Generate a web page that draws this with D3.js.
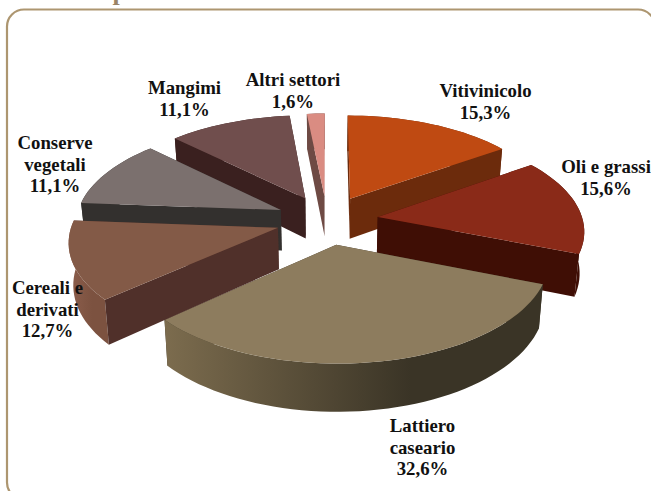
<!DOCTYPE html>
<html>

<head>
  <meta charset="utf-8">
  <title>Settori</title>
  <style>
    html, body {
      margin: 0;
      background: #fff;
    }
    svg {
      display: block;
    }
    text {
      font-family: 'Liberation Serif', serif;
      font-weight: bold;
    }
  </style>
</head>

<body>
  <div id="chart"></div>
  <script src="https://d3js.org/d3.v7.min.js"></script>
  <script>
    var categories = ["Vitivinicolo", "Oli e grassi", "Lattiero caseario", "Cereali e derivati", "Conserve vegetali", "Mangimi", "Altri settori"];
    var shares = [15.3, 15.6, 32.6, 12.7, 11.1, 11.1, 1.6];
    var labelLines = [["Vitivinicolo", "15,3%"], ["Oli e grassi", "15,6%"], ["Lattiero", "caseario", "32,6%"], ["Cereali e", "derivati", "12,7%"], ["Conserve", "vegetali", "11,1%"], ["Mangimi", "11,1%"], ["Altri settori", "1,6%"]];
    var titleText = "Sau per tutta Italia";

    var topColors = ["#bf4a12", "#8a2a18", "#8d7c5e", "#835a47", "#7b706e", "#704e4d", "#da8c82"];
    var wallColors = ["#6c2b0c", "#3f0e05", "#3c3527", "#50302a", "#33302e", "#3a201f", "#6e4a44"];
    var rimFrom = ["#6c2b0c", "#3f0e05", "#7c6c4e", "#8c5e4c", "#33302e", "#3a201f", "#6e4a44"];
    var rimTo = ["#6c2b0c", "#3f0e05", "#3a3426", "#7c5240", "#33302e", "#3a201f", "#6e4a44"];

    // draw order, back to front
    var drawOrder = [6, 5, 0, 1, 4, 2, 3];

    // label anchor, centre of first line
    var labelX = [485.5, 606, 422.5, 47.5, 55, 184.5, 293];
    var labelY = [97, 173, 432, 294, 149, 94, 86];

    var width = 651,
      height = 491;

    var cx = 327,
      cy = 220,
      rx = 205,
      ry = 98,
      persp = 0.12,
      explode = 0.25,
      depth = 41,
      converge = 0.982; // vertical edges lean inward going down

    var svg = d3.select("#chart").append("svg")
      .attr("width", width)
      .attr("height", height);

    var defs = svg.append("defs");

    // tilted plane: x across, z towards the viewer
    function project(x, z, down) {
      var s = 1 / (1 - persp * z);
      return [cx + rx * x * s * (down ? converge : 1), cy + ry * z * s + (down ? depth * s : 0)];
    }

    var pie = d3.pie().sort(null).value(function(d) {
      return d;
    });
    var slices = pie(shares);

    function planePoints(d) {
      var mid = (d.startAngle + d.endAngle) / 2;
      var ox = explode * Math.sin(mid),
        oz = -explode * Math.cos(mid);
      var steps = Math.max(4, Math.ceil((d.endAngle - d.startAngle) * 24));
      var rim = d3.range(steps + 1).map(function(i) {
        var a = d.startAngle + (d.endAngle - d.startAngle) * i / steps;
        return [ox + Math.sin(a), oz - Math.cos(a)];
      });
      return {
        apex: [ox, oz],
        rim: rim
      };
    }

    var line = d3.line();

    function wallPath(pts) {
      var upper = pts.map(function(p) {
        return project(p[0], p[1], false);
      });
      var lower = pts.map(function(p) {
        return project(p[0], p[1], true);
      }).reverse();
      return line(upper.concat(lower)) + "Z";
    }

    // frame
    svg.append("rect")
      .attr("x", 7)
      .attr("y", 9.5)
      .attr("width", 648)
      .attr("height", 490)
      .attr("rx", 17)
      .attr("fill", "#fff")
      .attr("stroke", "#ad9670")
      .attr("stroke-width", 2.2);

    // title is cut off by the top of the picture
    svg.append("text")
      .attr("x", 52)
      .attr("y", -0.5)
      .attr("font-size", 26)
      .attr("letter-spacing", 3)
      .attr("fill", "#9a8466")
      .text(titleText);

    var pieG = svg.append("g");

    drawOrder.forEach(function(i) {
      var d = slices[i];
      var p = planePoints(d);
      var g = pieG.append("g").attr("class", "slice");
      var first = p.rim[0],
        last = p.rim[p.rim.length - 1];

      var gradId = "rim" + i;
      var xs = p.rim.map(function(q) {
        return project(q[0], q[1], false)[0];
      });
      var grad = defs.append("linearGradient")
        .attr("id", gradId)
        .attr("gradientUnits", "userSpaceOnUse")
        .attr("x1", d3.min(xs))
        .attr("x2", d3.max(xs))
        .attr("y1", 0)
        .attr("y2", 0);
      grad.append("stop").attr("offset", 0).attr("stop-color", rimFrom[i]);
      grad.append("stop").attr("offset", 0.65).attr("stop-color", rimTo[i]);

      // walls, farthest first
      var walls = [{
        pts: p.rim,
        fill: "url(#" + gradId + ")",
        z: d3.mean(p.rim, function(q) {
          return q[1];
        })
      }, {
        pts: [p.apex, first],
        fill: wallColors[i],
        z: (p.apex[1] + first[1]) / 2
      }, {
        pts: [p.apex, last],
        fill: wallColors[i],
        z: (p.apex[1] + last[1]) / 2
      }];
      walls.sort(function(a, b) {
        return a.z - b.z;
      });
      walls.forEach(function(w) {
        g.append("path")
          .attr("d", wallPath(w.pts))
          .attr("fill", w.fill);
      });

      var outline = [p.apex].concat(p.rim).map(function(q) {
        return project(q[0], q[1], false);
      });
      g.append("path")
        .attr("d", line(outline) + "Z")
        .attr("fill", topColors[i]);
    });

    // labels
    var labels = svg.append("g")
      .attr("font-size", 18.8)
      .attr("fill", "#111")
      .attr("text-anchor", "middle");

    labelLines.forEach(function(lines, i) {
      var t = labels.append("text")
        .attr("x", labelX[i])
        .attr("y", labelY[i]);
      lines.forEach(function(s, k) {
        t.append("tspan")
          .attr("x", labelX[i])
          .attr("dy", k ? 21.5 : 0)
          .text(s);
      });
    });
  </script>
</body>

</html>
